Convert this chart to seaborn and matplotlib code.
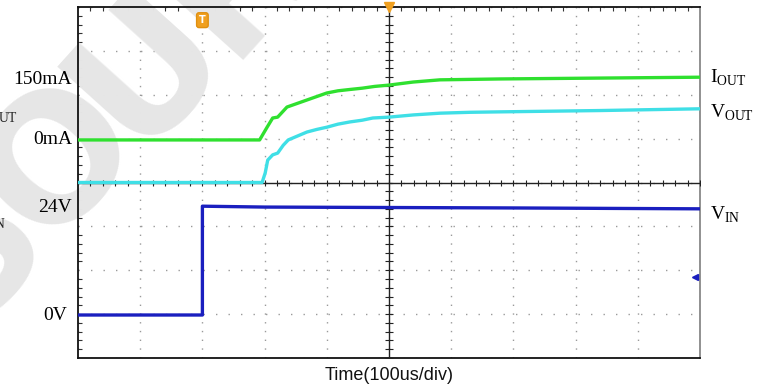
import numpy as np
import pandas as pd
import matplotlib
matplotlib.use('Agg')
import matplotlib.pyplot as plt
import matplotlib.transforms as mtransforms
import seaborn as sns

# Oscilloscope capture: time in us (100us/div, 10 div), traces in screen divisions (8 div)
t_iout = [0, 292, 304, 313, 321, 336, 368, 384, 400, 418, 437, 457, 477, 500, 539, 582, 630, 678, 839, 1000]
iout_div = [4.97, 4.97, 5.26, 5.47, 5.49, 5.72, 5.88, 5.96, 6.04, 6.09, 6.12, 6.15, 6.19, 6.22, 6.29, 6.34,
            6.35, 6.36, 6.38, 6.40]

t_vout = [0, 296, 301, 305, 313, 321, 330, 338, 368, 384, 400, 418, 437, 457, 474, 500, 539, 582, 630, 678,
          839, 1000]
vout_div = [4.0, 4.0, 4.22, 4.51, 4.63, 4.67, 4.85, 4.97, 5.15, 5.21, 5.26, 5.33, 5.38, 5.42, 5.47, 5.49,
            5.54, 5.58, 5.60, 5.61, 5.64, 5.68]

t_vin = [0, 200, 200, 300, 500, 700, 1000]
vin_div = [0.98, 0.98, 3.46, 3.44, 3.43, 3.42, 3.40]

left_labels = ['150mA', '0mA', '24V', '0V']
left_pos = [6.34, 4.97, 3.42, 0.98]
right_labels = [r'I$_{\mathregular{OUT}}$', r'V$_{\mathregular{OUT}}$', r'V$_{\mathregular{IN}}$']
right_pos = [6.39, 5.58, 3.26]

sns.set_theme(style='white')
plt.rcParams['font.family'] = ['Liberation Serif', 'DejaVu Sans']

fig = plt.figure(figsize=(7.63, 3.92), dpi=100)
ax = fig.add_axes([78 / 763, 34 / 392, 622 / 763, 351 / 392])

# watermark letters (very light grey), cut by the capture border as in the source
wm = dict(fontsize=125, color='#e6e6e6', rotation=48, ha='center', va='center',
          family='DejaVu Sans', weight='bold', zorder=1.5, clip_on=False,
          rotation_mode='anchor')
for ch, (x, y) in zip('SOUR', [(-25, 250), (60, 160), (148, 68), (235, -22)]):
    ax.text(x / 763, 1 - y / 392, ch, transform=fig.transFigure, **wm)

df_i = pd.DataFrame({'t': t_iout, 'v': iout_div})
df_vo = pd.DataFrame({'t': t_vout, 'v': vout_div})
df_vi = pd.DataFrame({'t': t_vin, 'v': vin_div})
sns.lineplot(data=df_i, x='t', y='v', ax=ax, color='#2fe02f', lw=2.4, sort=False, estimator=None, zorder=5)
sns.lineplot(data=df_vo, x='t', y='v', ax=ax, color='#3fdfe6', lw=2.4, sort=False, estimator=None, zorder=4)
sns.lineplot(data=df_vi, x='t', y='v', ax=ax, color='#1a1fbf', lw=2.4, sort=False, estimator=None, zorder=5)

ax.set_xlim(0, 1000)
ax.set_ylim(0, 8)
ax.set_xticks(np.arange(0, 1001, 100))
ax.set_yticks(np.arange(0, 9, 1))
ax.set_xticks(np.arange(0, 1001, 20), minor=True)
ax.set_yticks(np.arange(0, 8.01, 0.2), minor=True)
ax.set_xticklabels([])
ax.set_yticklabels([])
ax.tick_params(which='major', length=0)
ax.tick_params(which='minor', direction='in', length=3, width=0.8, color='#333333',
               left=True, top=True, bottom=False, right=False)
ax.xaxis.grid(True, which='major', color='#9a9a9a', lw=1.0, linestyle=(0, (1, 5.3)))
ax.yaxis.grid(True, which='major', color='#9a9a9a', lw=1.0, linestyle=(0, (1, 8)))
ax.set_xlabel('')
ax.set_ylabel('')

for side in ['left', 'bottom', 'top']:
    ax.spines[side].set_color('#111111')
    ax.spines[side].set_linewidth(1.3)
ax.spines['right'].set_color('#888888')
ax.spines['right'].set_linewidth(1.3)

# centre cross with its small ticks
ax.axhline(4, color='#222222', lw=1.0, zorder=3)
ax.axvline(500, color='#222222', lw=1.0, zorder=3)
ax.plot(np.arange(0, 1001, 20), np.full(51, 4.0), '|', ms=5, mew=0.8, color='#222222', zorder=3)
ax.plot(np.full(41, 500.0), np.arange(0, 8.01, 0.2), '_', ms=6, mew=0.8, color='#222222', zorder=3)

# labels
trans_l = mtransforms.blended_transform_factory(fig.transFigure, ax.transData)
for lab, y, xr in zip(left_labels, left_pos, [72, 72, 72, 67]):
    ax.text(xr / 763, y, lab, transform=trans_l, ha='right', va='center', fontsize=14, color='black')
for lab, y in zip(right_labels, right_pos):
    ax.text(710 / 763, y, lab, transform=trans_l, ha='left', va='center', fontsize=14, color='black')
# channel labels cut at the left border of the capture
ax.text(18 / 763, 5.54, r'V$_{\mathregular{OUT}}$', transform=trans_l, ha='right', va='center', fontsize=14)
ax.text(6 / 763, 3.12, r'V$_{\mathregular{IN}}$', transform=trans_l, ha='right', va='center', fontsize=14)

# trigger markers
ax.text(200, 7.7, 'T', ha='center', va='center', fontsize=7, color='white', weight='bold',
        family='DejaVu Sans', zorder=6,
        bbox=dict(boxstyle='round,pad=0.25', fc='#f0a020', ec='#e09010'))
ax.plot([500], [8.0], marker='v', ms=7, color='#f0a020', clip_on=False, zorder=6)
ax.plot([992], [1.85], marker='<', ms=5, color='#1a1fbf', zorder=6)

fig.text(389 / 763, 1 - 375 / 392, 'Time(100us/div)', ha='center', va='center',
         fontsize=13, family='Liberation Sans', color='#111111')

fig.savefig('out.png', dpi=100)
